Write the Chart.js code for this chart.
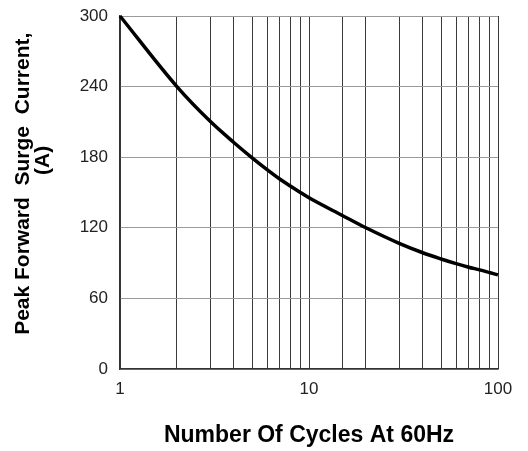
<!DOCTYPE html>
<html>
<head>
<meta charset="utf-8">
<script src="https://cdn.jsdelivr.net/npm/chart.js@4.4.1/dist/chart.umd.min.js"></script>
<style>
  body { margin: 0; background: #fff; }
  #wrap { width: 528px; height: 451px; }
</style>
</head>
<body>
<div id="wrap"><canvas id="chart" width="528" height="451"></canvas></div>
<script>
// Surge current vs number of cycles
const cycles = [1, 2, 3, 4, 5, 6, 7, 8, 9, 10, 15, 20, 30, 40, 50, 60, 70, 80, 90, 100]
const current = [300, 240, 210.5, 192.5, 179.5, 169.5, 161.5, 155.3, 150, 145.5, 130.5, 120, 106.8, 98.8, 93.5, 89.5, 86.5, 84.2, 82, 80]
const xLabels = [1, 10, 100]
const yTicks = [0, 60, 120, 180, 240, 300]

const xTitle = 'Number Of Cycles At 60Hz'
const yTitle = ['   Peak Forward  Surge  Current,', '           (A)']

const tickFont = { family: 'Liberation Sans', size: 17 }

const ctx = document.querySelector('#chart').getContext('2d')

const myChart = new Chart(ctx, {
  type: 'line',
  data: {
    datasets: [
      {
        data: cycles.map((c, i) => ({ x: c, y: current[i] })),
        borderColor: '#000',
        borderWidth: 3.5,
        pointRadius: 0,
        cubicInterpolationMode: 'monotone',
        clip: 4
      }
    ]
  },
  options: {
    responsive: false,
    animation: false,
    layout: { padding: { top: 16, right: 30, left: 0, bottom: 0 } },
    plugins: {
      legend: { display: false },
      tooltip: { enabled: false }
    },
    scales: {
      x: {
        type: 'logarithmic',
        min: 1,
        max: 100,
        afterFit: scale => { scale.height = 82 },
        grid: { color: '#3a3a3a', lineWidth: 1, drawTicks: false },
        border: { color: '#333', width: 1.5 },
        ticks: {
          autoSkip: false,
          maxRotation: 0,
          padding: 10,
          color: '#222',
          font: tickFont,
          callback: v => (xLabels.includes(v) ? String(v) : '')
        },
        title: {
          display: true,
          text: xTitle,
          color: '#000',
          font: { family: 'Liberation Sans', size: 23, weight: 'bold', lineHeight: 1.1 },
          padding: { top: 0, bottom: 3 }
        }
      },
      y: {
        min: 0,
        max: 300,
        afterFit: scale => {
          scale.width = 120
          scale.paddingTop = 0
          scale.paddingBottom = 0
        },
        afterBuildTicks: scale => { scale.ticks = yTicks.map(v => ({ value: v })) },
        grid: { color: '#9a9a9a', lineWidth: 1, drawTicks: false },
        border: { color: '#333', width: 1.5 },
        ticks: {
          padding: 12,
          color: '#222',
          font: tickFont
        },
        title: {
          display: true,
          text: yTitle,
          color: '#000',
          font: { family: 'Liberation Sans', size: 21, weight: 'bold', lineHeight: 0.95 },
          padding: { top: 13, bottom: 0 }
        }
      }
    }
  }
})
</script>
</body>
</html>
